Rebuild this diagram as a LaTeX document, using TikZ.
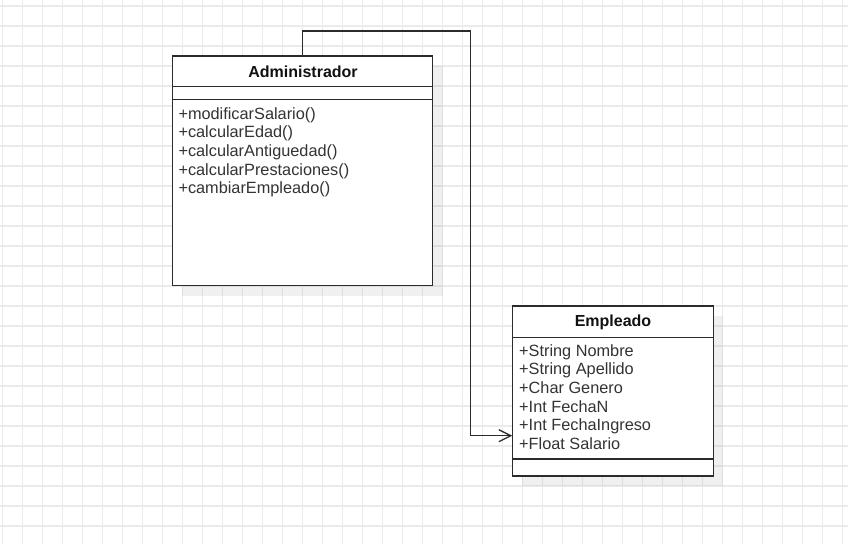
\documentclass[tikz,border=0pt]{standalone}
\usepackage{fontspec}
\setmainfont{Liberation Sans}
\usetikzlibrary{arrows.meta}
\definecolor{gridc}{HTML}{EBEBEB}
\definecolor{linec}{HTML}{2B2B2B}
\definecolor{txtc}{HTML}{333333}
\definecolor{titlec}{HTML}{111111}
\begin{document}
\begin{tikzpicture}[x=1pt,y=-1pt,
 umlbox/.style={draw=linec, line width=1.3pt, fill=white, anchor=north west, inner sep=0pt, outer sep=0pt},
 shadowbox/.style={fill=black, fill opacity=0.06, draw=none, anchor=north west, inner sep=0pt, outer sep=0pt},
 umltitle/.style={font=\fontsize{16}{19}\selectfont\bfseries, text=titlec, anchor=base, inner sep=0pt},
 member/.style={font=\fontsize{16.3}{19}\selectfont, text=txtc, anchor=base west, inner sep=0pt},
 sepline/.style={draw=linec, line width=1.3pt},
 conn/.style={draw=linec, line width=1.3pt, -{Straight Barb[length=12pt,width=12pt,line width=1.3pt]}},
 gridline/.style={draw=gridc, line width=1.7pt},
]
\useasboundingbox (0,0) rectangle (848,544);
\fill[white] (0,0) rectangle (848,544);
\foreach \i in {0,...,42} \draw[gridline] (2.5+20*\i,0) -- (2.5+20*\i,544);
\foreach \j in {0,...,26} \draw[gridline] (0,5.7+20*\j) -- (848,5.7+20*\j);

% shadows
\node[shadowbox, minimum width=260.4pt, minimum height=229.7pt] (adminShadow) at (182.3,66) {};
\node[shadowbox, minimum width=201pt, minimum height=170pt] (empShadow) at (522.3,316) {};

% Administrador
\node[umlbox, minimum width=260.4pt, minimum height=229.7pt] (admin) at (172.3,56) {};
\coordinate (ah1) at (0,86.7);
\coordinate (ah2) at (0,99.3);
\draw[sepline] (admin.west |- ah1) -- (admin.east |- ah1);
\draw[sepline] (admin.west |- ah2) -- (admin.east |- ah2);
\node[umltitle] (adminTitle) at (303,77.3) {Administrador};
\node[member] (m1) at (178.3,119.3) {+modificarSalario()};
\node[member] (m2) at (178.3,137.9) {+calcularEdad()};
\node[member] (m3) at (178.3,156.5) {+calcularAntiguedad()};
\node[member] (m4) at (178.3,175.1) {+calcularPrestaciones()};
\node[member] (m5) at (178.3,193.7) {+cambiarEmpleado()};

% Empleado
\node[umlbox, minimum width=201pt, minimum height=170pt] (emp) at (512.3,306) {};
\coordinate (eh1) at (0,337.3);
\coordinate (eh2) at (0,459);
\draw[sepline] (emp.west |- eh1) -- (emp.east |- eh1);
\draw[sepline] (emp.west |- eh2) -- (emp.east |- eh2);
\node[umltitle] (empTitle) at (613,326.7) {Empleado};
\node[member] (a1) at (519,356) {+String Nombre};
\node[member] (a2) at (519,374.7) {+String Apellido};
\node[member] (a3) at (519,393.3) {+Char Genero};
\node[member] (a4) at (519,412) {+Int FechaN};
\node[member] (a5) at (519,430.6) {+Int FechaIngreso};
\node[member] (a6) at (519,449.3) {+Float Salario};

% connector
\coordinate (bend) at (470.5,31);
\coordinate (tipy) at (0,435.7);
\coordinate (tip) at (emp.west |- tipy);
\draw[conn] (admin.north) |- (bend) |- (tip);
\end{tikzpicture}
\end{document}
